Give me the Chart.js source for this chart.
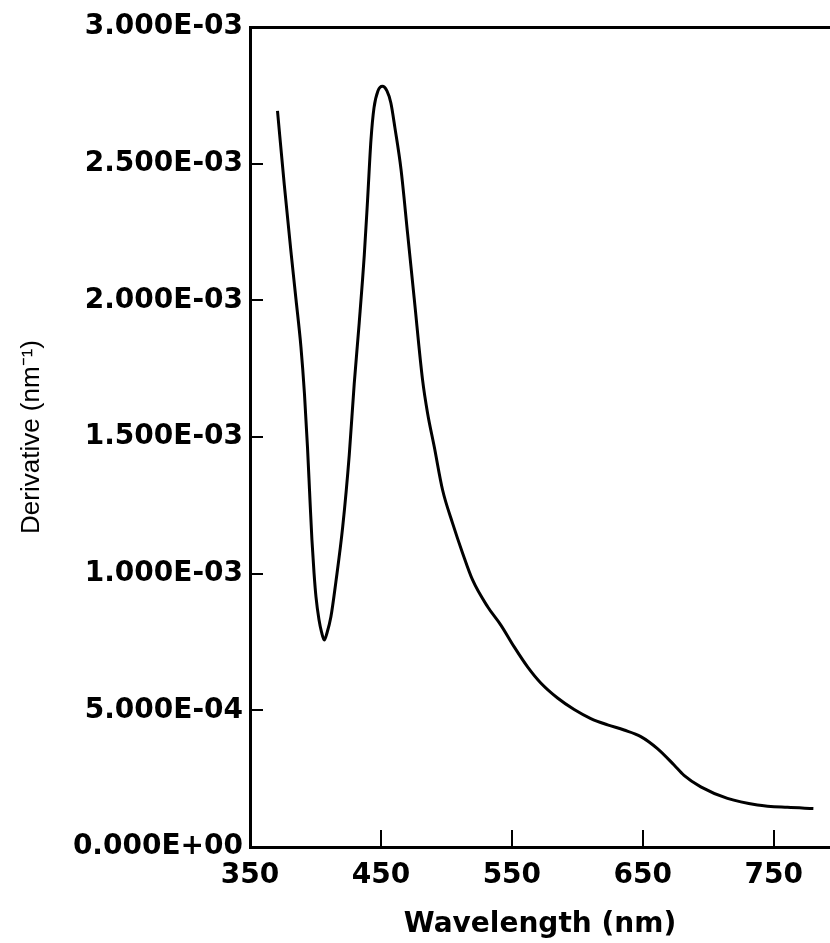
<!DOCTYPE html>
<html>
<head>
<meta charset="utf-8">
<script src="https://cdn.jsdelivr.net/npm/chart.js@4/dist/chart.umd.min.js"></script>
<style>
  html, body { margin: 0; padding: 0; background: #fff; }
  #wrap { width: 830px; height: 943px; position: relative; }
</style>
</head>
<body>
<div id="wrap"><canvas id="derivChart"></canvas></div>
<script>
// Wavelength (nm) and derivative values
const wavelength = [
  371.0, 376.2, 381.3, 385.1, 388.9, 391.6, 393.9, 395.8, 397.3, 398.9,
  400.4, 402.7, 404.6, 406.7, 408.8, 411.8, 415.6, 420.8, 425.8, 429.6,
  433.4, 437.3, 439.8, 442.4, 444.7, 447.7, 451.1, 454.6, 457.6, 460.7,
  465.3, 470.4, 475.4, 481.8, 485.6, 490.7, 497.1, 504.7, 512.4, 520.0,
  531.5, 541.6, 551.8, 562.0, 572.1, 584.9, 597.6, 610.3, 623.1, 635.7,
  648.5, 661.2, 673.9, 681.5, 694.3, 714.7, 737.6, 760.5, 780.3
];
const derivative = [
  0.002693, 0.002422, 0.002177, 0.002005, 0.001830, 0.001658, 0.001464, 0.001270, 0.001124, 0.001003,
  0.000915, 0.000831, 0.000787, 0.000757, 0.000783, 0.000842, 0.000970, 0.001171, 0.001434, 0.001694,
  0.001917, 0.002166, 0.002367, 0.002587, 0.002704, 0.002766, 0.002783, 0.002766, 0.002722, 0.002631,
  0.002481, 0.002243, 0.002008, 0.001709, 0.001588, 0.001465, 0.001306, 0.001185, 0.001075, 0.000977,
  0.000879, 0.000812, 0.000732, 0.000659, 0.000600, 0.000545, 0.000503, 0.000470, 0.000447, 0.000428,
  0.000404, 0.000360, 0.000300, 0.000262, 0.000220, 0.000178, 0.000154, 0.000145, 0.000141
];
const xTickValues = [350, 450, 550, 650, 750];
const yTickValues = [0, 0.0005, 0.001, 0.0015, 0.002, 0.0025, 0.003];

// 3.000E-03 style labels
function sciLabel(v) {
  if (Math.abs(v) < 1e-12) return "0.000E+00";
  const parts = v.toExponential(3).split("e");
  const exp = parseInt(parts[1], 10);
  return parts[0] + "E" + (exp < 0 ? "-" : "+") + String(Math.abs(exp)).padStart(2, "0");
}

// tick marks drawn inside the plot, like the original
const inwardTicks = {
  id: "inwardTicks",
  afterDraw(chart) {
    const { ctx, chartArea, scales } = chart;
    ctx.save();
    ctx.strokeStyle = "#000";
    ctx.lineWidth = 2;
    ctx.beginPath();
    xTickValues.slice(1).forEach((v) => {
      const px = Math.round(scales.x.getPixelForValue(v));
      ctx.moveTo(px, chartArea.bottom);
      ctx.lineTo(px, chartArea.bottom - 17);
    });
    yTickValues.slice(1, -1).forEach((v) => {
      const py = Math.round(scales.y.getPixelForValue(v));
      ctx.moveTo(chartArea.left, py);
      ctx.lineTo(chartArea.left + 13, py);
    });
    ctx.stroke();
    ctx.restore();
  },
};

const tickFont = { family: "'DejaVu Sans', sans-serif", size: 28, weight: "bold" };

new Chart(document.getElementById("derivChart").getContext("2d"), {
  type: "line",
  data: {
    datasets: [
      {
        data: wavelength.map((w, i) => ({ x: w, y: derivative[i] })),
        borderColor: "#000",
        borderWidth: 3,
        pointRadius: 0,
        fill: false,
        cubicInterpolationMode: "monotone",
      },
    ],
  },
  options: {
    responsive: true,
    maintainAspectRatio: false,
    animation: false,
    layout: { padding: { top: 27, right: 0, bottom: 0, left: 0 } },
    plugins: {
      legend: { display: false },
      tooltip: { enabled: false },
    },
    scales: {
      x: {
        type: "linear",
        min: 350,
        max: 793,
        afterBuildTicks: (scale) => {
          scale.ticks = xTickValues.map((v) => ({ value: v }));
        },
        afterFit: (scale) => {
          scale.height = 96;
        },
        grid: { display: false, drawTicks: false },
        border: { display: true, color: "#000", width: 3 },
        ticks: {
          color: "#000",
          font: tickFont,
          padding: 12,
          maxRotation: 0,
          autoSkip: false,
        },
        title: {
          display: true,
          text: "Wavelength (nm)",
          color: "#000",
          font: { family: "'DejaVu Sans', sans-serif", size: 28, weight: "bold" },
          padding: { top: 0, bottom: 1 },
        },
      },
      y: {
        type: "linear",
        min: 0,
        max: 0.003,
        afterBuildTicks: (scale) => {
          scale.ticks = yTickValues.map((v) => ({ value: v }));
        },
        afterFit: (scale) => {
          scale.width = 250;
        },
        grid: {
          display: true,
          drawTicks: false,
          drawOnChartArea: true,
          lineWidth: 3,
          color: (c) => (c.tick && Math.abs(c.tick.value - 0.003) < 1e-9 ? "#000" : "rgba(0,0,0,0)"),
        },
        border: { display: true, color: "#000", width: 3 },
        ticks: {
          color: "#000",
          font: tickFont,
          padding: 7,
          autoSkip: false,
          callback: (v) => sciLabel(v),
        },
        title: {
          display: true,
          text: "Derivative (nm\u207B\u00B9)",
          color: "#000",
          font: { family: "'Liberation Sans', Arial, sans-serif", size: 26, weight: "normal" },
          padding: { top: 16, bottom: 0 },
        },
      },
    },
  },
  plugins: [inwardTicks],
});
</script>
</body>
</html>
